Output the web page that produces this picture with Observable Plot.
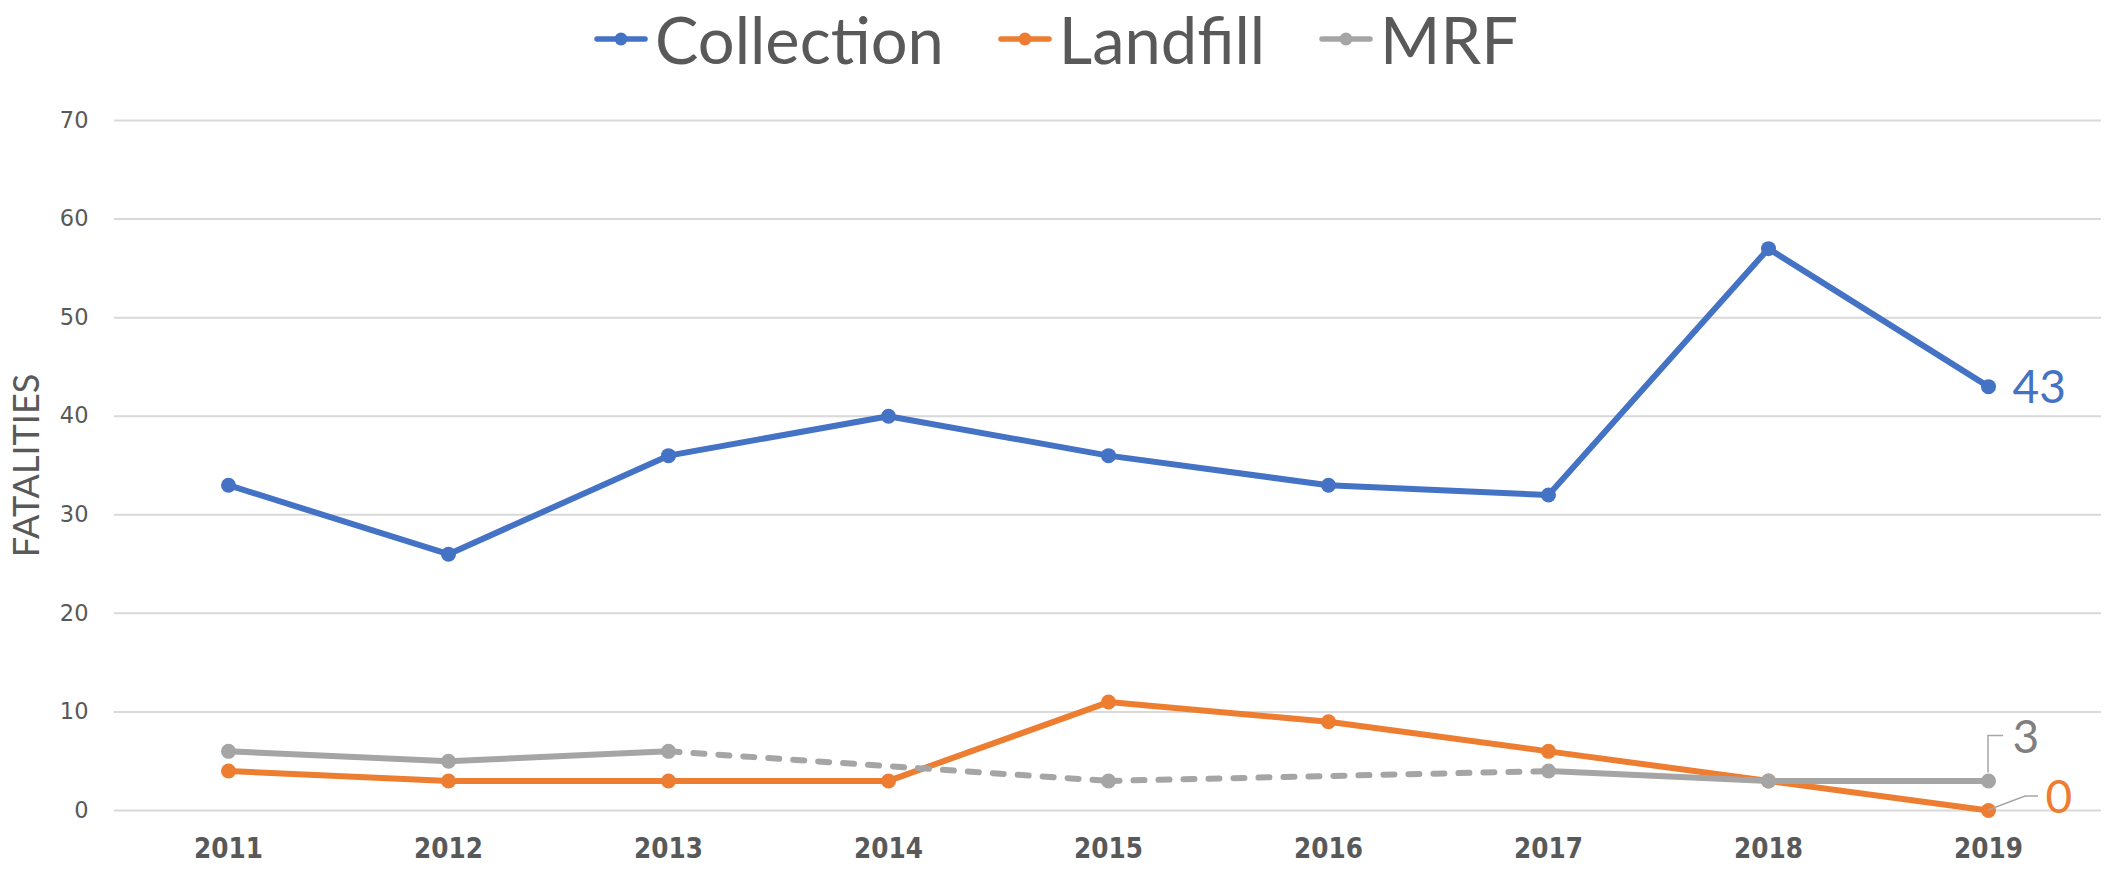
<!DOCTYPE html>
<html><head><meta charset="utf-8">
<script src="https://cdn.jsdelivr.net/npm/d3@7"></script>
<script src="https://cdn.jsdelivr.net/npm/@observablehq/plot@0.6"></script>
<style>
body{margin:0;background:#fff;width:2110px;height:870px;overflow:hidden}
#legend{height:90px;display:flex;justify-content:center;align-items:flex-start;gap:54px;font-family:Lato,"Open Sans",sans-serif;font-size:65px;line-height:78px;color:#595959;padding-left:2px;box-sizing:border-box}
#legend .item{display:flex;align-items:center;gap:7px;height:78px}
#legend svg{display:block}
</style></head><body>
<div id="legend"></div>
<div id="chart"></div>
<script>
// ---- data ----
const years = [2011, 2012, 2013, 2014, 2015, 2016, 2017, 2018, 2019];
const collection = [33, 26, 36, 40, 36, 33, 32, 57, 43];
const landfill = [4, 3, 3, 3, 11, 9, 6, 3, 0];
const mrf = [6, 5, 6, null, 3, null, 4, 3, 3];
const seriesNames = ["Collection", "Landfill", "MRF"];
const yTicks = [0, 10, 20, 30, 40, 50, 60, 70];
const yLabel = "FATALITIES";

// ---- styles ----
const colors = {Collection: "#4472C4", Landfill: "#ED7D31", MRF: "#A5A5A5"};
const labelColors = {Collection: "#4472C4", Landfill: "#ED7D31", MRF: "#7F7F7F"};
const labelOffsets = {Collection: [24, 2], Landfill: [57, -12], MRF: [24, -43]};

const seriesValues = {Collection: collection, Landfill: landfill, MRF: mrf};
const rows = [];
for (const s of seriesNames) {
  seriesValues[s].forEach((v, i) => rows.push({series: s, year: years[i], value: v}));
}
const defined = rows.filter(d => d.value != null);

// dashed bridges over missing values
const bridges = [];
for (const s of seriesNames) {
  const pts = defined.filter(d => d.series === s);
  for (let k = 0; k + 1 < pts.length; k++) {
    const a = pts[k], b = pts[k + 1];
    if (years.indexOf(b.year) > years.indexOf(a.year) + 1) {
      bridges.push({series: s, x1: a.year, y1: a.value, x2: b.year, y2: b.value});
    }
  }
}
const lastPts = seriesNames.map(s => {
  const pts = defined.filter(d => d.series === s);
  return pts[pts.length - 1];
});

// ---- legend ----
const legend = d3.select("#legend");
for (const s of seriesNames) {
  const item = legend.append("div").attr("class", "item");
  const sw = item.append("svg").attr("width", 54).attr("height", 20);
  sw.append("line").attr("x1", 3).attr("x2", 51).attr("y1", 10).attr("y2", 10)
    .attr("stroke", colors[s]).attr("stroke-width", 5.5).attr("stroke-linecap", "round");
  sw.append("circle").attr("cx", 27).attr("cy", 10).attr("r", 6.5).attr("fill", colors[s]);
  item.append("span").text(s);
}

// ---- chart ----
const layers = [];
layers.push(Plot.gridY(yTicks, {stroke: "#D9D9D9", strokeOpacity: 1, strokeWidth: 2}));
for (const s of seriesNames) {
  const data = rows.filter(d => d.series === s);
  const br = bridges.filter(d => d.series === s);
  if (br.length) layers.push(Plot.link(br, {x1: "x1", y1: "y1", x2: "x2", y2: "y2",
    stroke: colors[s], strokeWidth: 6, strokeDasharray: "11,14", strokeLinecap: "round"}));
  layers.push(Plot.line(data, {x: "year", y: "value", stroke: colors[s], strokeWidth: 6,
    strokeLinejoin: "round", strokeLinecap: "round"}));
  layers.push(Plot.dot(data.filter(d => d.value != null), {x: "year", y: "value", r: 7.5, fill: colors[s]}));
}
for (const p of lastPts) {
  layers.push(Plot.text([p], {x: "year", y: "value", text: d => String(d.value),
    dx: labelOffsets[p.series][0], dy: labelOffsets[p.series][1], textAnchor: "start", lineAnchor: "middle",
    fill: labelColors[p.series], fontSize: 46, fontFamily: "Lato, 'Open Sans', sans-serif"}));
}
layers.push(Plot.axisY(yTicks, {tickSize: 0, tickPadding: 26, fontSize: 22.5, fill: "#595959",
  fontFamily: "'DejaVu Sans', sans-serif", label: null}));
layers.push(Plot.axisX(years, {tickSize: 0, tickPadding: 28, fontSize: 27.5, fill: "#595959", fontWeight: "bold",
  fontFamily: "'Liberation Sans Narrow', 'DejaVu Sans Condensed', sans-serif", tickFormat: d => String(d), label: null}));
layers.push(Plot.text([yLabel], {frameAnchor: "left", rotate: -90, dx: -87, text: d => d,
  textAnchor: "middle", lineAnchor: "middle", fontSize: 36, fill: "#595959", fontFamily: "Lato, 'Open Sans', sans-serif"}));

const chart = Plot.plot({
  width: 2110, height: 780,
  marginLeft: 114, marginRight: 9, marginTop: 30, marginBottom: 60,
  style: {background: "#fff", overflow: "visible"},
  x: {type: "point", domain: years, padding: 0.5},
  y: {domain: [0, 70]},
  marks: layers
});
document.getElementById("chart").appendChild(chart);

// leader lines for the shifted end labels, placed through the chart's own scales
const xs = chart.scale("x"), ys = chart.scale("y");
const svg = d3.select(chart);
const leaderG = svg.append("g").attr("fill", "none").attr("stroke", "#A6A6A6").attr("stroke-width", 1.5);
for (const p of lastPts) {
  const px = xs.apply(p.year), py = ys.apply(p.value);
  if (p.series === "MRF") leaderG.append("path").attr("d", `M${px},${py - 8}V${py - 45}H${px + 15}`);
  if (p.series === "Landfill") leaderG.append("path").attr("d", `M${px},${py}L${px + 37},${py - 14}H${px + 50}`);
}
// keep the end labels above the leaders
svg.selectAll("g[aria-label='text']").raise();
</script>
</body></html>
